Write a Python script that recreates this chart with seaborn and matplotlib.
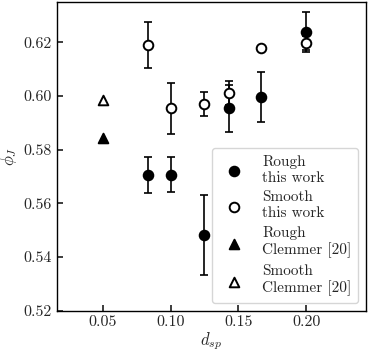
import matplotlib
matplotlib.use("Agg")
import matplotlib.pyplot as plt
import numpy as np
import pandas as pd
import seaborn as sns

# data
d_sp = [1 / 12, 0.10, 0.125, 1 / 7, 1 / 6, 0.20]
rough_phi = [0.5706, 0.5707, 0.5482, 0.5954, 0.5998, 0.6238]
rough_err = [0.0066, 0.0066, 0.0148, 0.0087, 0.0093, 0.0075]
smooth_phi = [0.6191, 0.5954, 0.5971, 0.6010, 0.6178, 0.6197]
smooth_err = [0.0086, 0.0094, 0.0045, 0.0045, 0.0010, 0.0026]
clemmer_d = [0.05]
clemmer_rough = [0.5843]
clemmer_smooth = [0.5985]

labels = ["Rough\nthis work", "Smooth\nthis work", "Rough\nClemmer [20]", "Smooth\nClemmer [20]"]


def setup_style() -> None:
    sns.set_theme(style="ticks")
    plt.rcParams.update(
        {
            "font.family": "serif",
            "font.serif": ["cmr10"],
            "mathtext.fontset": "cm",
            "axes.formatter.use_mathtext": True,
            "font.size": 11,
            "axes.labelsize": 12,
            "xtick.labelsize": 11.5,
            "ytick.labelsize": 11.5,
            "legend.fontsize": 11,
            "xtick.direction": "in",
            "ytick.direction": "in",
            "xtick.major.size": 4,
            "ytick.major.size": 4,
            "axes.edgecolor": "black",
            "axes.linewidth": 1.0,
        }
    )


def main() -> None:
    setup_style()
    fig = plt.figure(figsize=(3.70, 3.53), dpi=100)
    ax = fig.add_axes([0.153, 0.12, 0.836, 0.874])

    frames = [
        pd.DataFrame({"d": d_sp, "phi": rough_phi, "set": labels[0]}),
        pd.DataFrame({"d": d_sp, "phi": smooth_phi, "set": labels[1]}),
        pd.DataFrame({"d": clemmer_d, "phi": clemmer_rough, "set": labels[2]}),
        pd.DataFrame({"d": clemmer_d, "phi": clemmer_smooth, "set": labels[3]}),
    ]

    ax.errorbar(d_sp, rough_phi, yerr=rough_err, fmt="none", ecolor="black",
                elinewidth=1.2, capsize=3, capthick=1.2, zorder=2)
    ax.errorbar(d_sp, smooth_phi, yerr=smooth_err, fmt="none", ecolor="black",
                elinewidth=1.2, capsize=3, capthick=1.2, zorder=2)

    styles = [
        ("o", "black"),
        ("o", "white"),
        ("^", "black"),
        ("^", "white"),
    ]
    for df, (marker, face) in zip(frames, styles):
        sns.scatterplot(data=df, x="d", y="phi", ax=ax, marker=marker, s=48,
                        color=face, edgecolor="black", linewidth=1.4,
                        label=df["set"].iloc[0], zorder=3)

    ax.set_xlim(0.016, 0.244)
    ax.set_ylim(0.52, 0.635)
    ax.set_xticks([0.05, 0.10, 0.15, 0.20])
    ax.set_yticks([0.52, 0.54, 0.56, 0.58, 0.60, 0.62])
    ax.set_xticklabels(["0.05", "0.10", "0.15", "0.20"])
    ax.set_yticklabels(["0.52", "0.54", "0.56", "0.58", "0.60", "0.62"])
    ax.set_xlabel(r"$d_{sp}$", labelpad=1)
    ax.set_ylabel(r"$\phi_J$", labelpad=3)

    ax.legend(loc="lower right", frameon=True, fancybox=True, framealpha=0.8,
              edgecolor="0.8", handletextpad=0.85, labelspacing=0.4,
              borderpad=0.45, borderaxespad=0.5)

    fig.savefig("out.png", dpi=100)
    plt.close(fig)


if __name__ == "__main__":
    main()
